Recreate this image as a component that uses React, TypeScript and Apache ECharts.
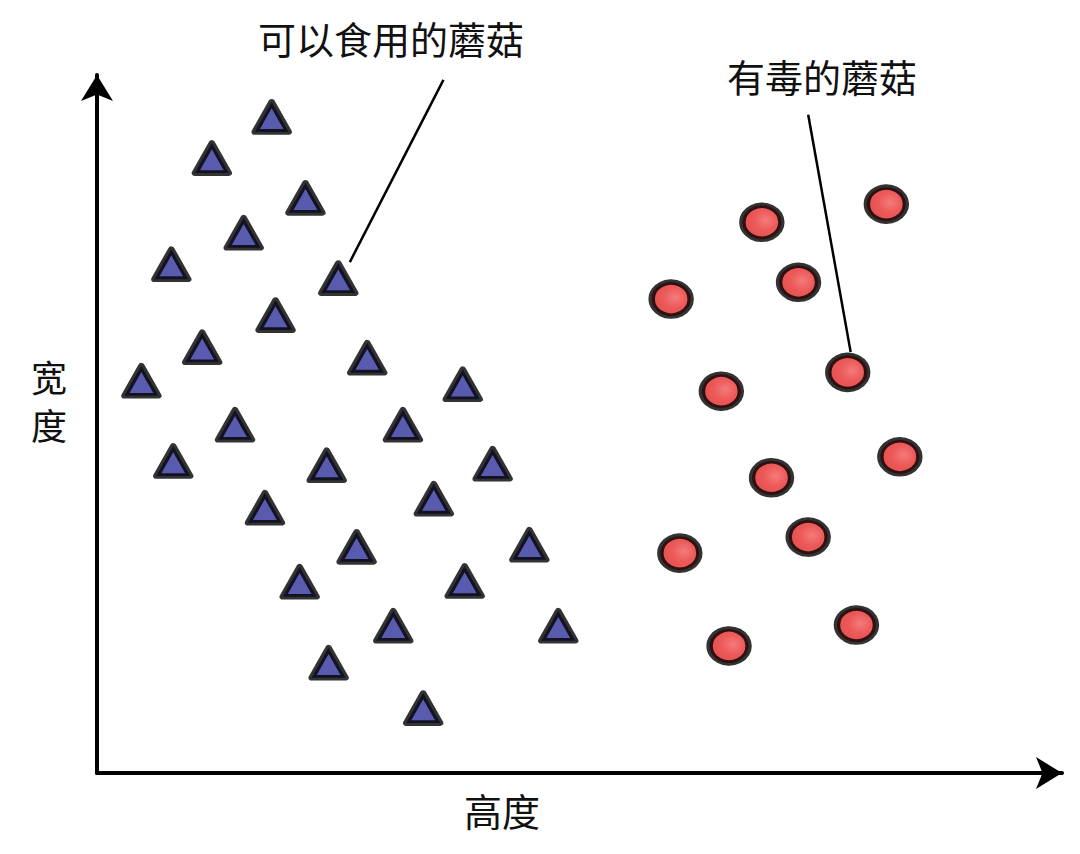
import React, { useEffect, useRef } from "react";
import * as echarts from "echarts";

// Edible mushrooms (triangles): [height, width]
const edibleX = [18.1, 11.9, 21.6, 15.2, 7.7, 25.0, 18.5, 10.9, 28.0, 4.6, 37.9, 14.3, 31.7, 7.9, 23.8, 41.0, 34.9, 17.4, 44.8, 26.9, 21.0, 38.1, 30.7, 47.8, 24.0, 33.8];
const edibleY = [94.0, 88.1, 82.4, 77.4, 72.9, 70.9, 65.6, 61.0, 59.5, 56.2, 55.7, 49.9, 49.9, 44.7, 44.1, 44.3, 39.3, 38.0, 32.7, 32.4, 27.4, 27.5, 21.1, 21.1, 15.8, 9.3];

// Poisonous mushrooms (circles)
const poisonX = [81.8, 68.9, 72.7, 59.5, 77.8, 64.7, 83.2, 69.9, 73.7, 60.4, 78.7, 65.5];
const poisonY = [81.5, 78.9, 70.3, 67.9, 57.4, 54.7, 45.3, 42.3, 33.8, 31.5, 21.2, 18.2];

// Annotation pointer lines (data coordinates)
const edibleLine = [[35.9, 99.3], [26.2, 73.2]];
const poisonLine = [[73.7, 94.3], [78.1, 60.3]];

const xMax = 100;
const yMax = 100;

const labels = {
  edible: "可以食用的蘑菇",
  poison: "有毒的蘑菇",
  xName: "高度",
  yName1: "宽",
  yName2: "度",
};

const FONT = "'Noto Sans CJK SC', 'Noto Sans', sans-serif";

export default function App() {
  const ref = useRef<HTMLDivElement>(null);
  useEffect(() => {
    if (!ref.current) return;
    const chart = echarts.init(ref.current, null, { renderer: "svg" });
    const edible = edibleX.map((x, i) => [x, edibleY[i]]);
    const poison = poisonX.map((x, i) => [x, poisonY[i]]);
    const axisLine = {
      show: true,
      symbol: ["none", "arrow"],
      symbolSize: [24, 26],
      lineStyle: { color: "#000", width: 4 },
    };
    const pointer = (pts: number[][]) => ({
      silent: true,
      symbol: "none",
      label: { show: false },
      lineStyle: { color: "#000", width: 2.5, type: "solid" },
      data: [[{ coord: pts[0] }, { coord: pts[1] }]],
    });
    chart.setOption({
      animation: false,
      backgroundColor: "#ffffff",
      grid: { left: 97, right: 18, top: 75, bottom: 81, containLabel: false },
      xAxis: {
        type: "value",
        min: 0,
        max: xMax,
        axisLine,
        axisTick: { show: false },
        axisLabel: { show: false },
        splitLine: { show: false },
      },
      yAxis: {
        type: "value",
        min: 0,
        max: yMax,
        axisLine,
        axisTick: { show: false },
        axisLabel: { show: false },
        splitLine: { show: false },
      },
      graphic: [
        {
          type: "text",
          left: 258,
          top: 18,
          style: { text: labels.edible, font: `38px ${FONT}`, fill: "#111" },
        },
        {
          type: "text",
          left: 727,
          top: 56,
          style: { text: labels.poison, font: `38px ${FONT}`, fill: "#111" },
        },
        {
          type: "text",
          left: 464,
          top: 790,
          style: { text: labels.xName, font: `38px ${FONT}`, fill: "#111" },
        },
        {
          type: "text",
          left: 31,
          top: 358,
          style: { text: labels.yName1, font: `36px ${FONT}`, fill: "#111" },
        },
        {
          type: "text",
          left: 31,
          top: 406,
          style: { text: labels.yName2, font: `36px ${FONT}`, fill: "#111" },
        },
      ],
      series: [
        {
          type: "scatter",
          name: "edible",
          data: edible,
          symbol: "triangle",
          symbolSize: [34, 30],
          itemStyle: {
            color: "#30339A",
            borderColor: "#000",
            borderWidth: 6,
            borderJoin: "round",
          },
          markLine: pointer(edibleLine),
        },
        {
          type: "scatter",
          name: "poison",
          data: poison,
          symbol: "circle",
          symbolSize: [39, 34],
          itemStyle: {
            color: {
              type: "radial",
              x: 0.6,
              y: 0.45,
              r: 0.6,
              colorStops: [
                { offset: 0, color: "#F25A5A" },
                { offset: 0.5, color: "#E83030" },
                { offset: 1, color: "#DD2424" },
              ],
            },
            borderColor: "#000",
            borderWidth: 6,
          },
          markLine: pointer(poisonLine),
        },
      ],
    });
    return () => chart.dispose();
  }, []);
  return (
    <div
      ref={ref}
      style={{ position: "fixed", left: 0, top: 0, width: 1080, height: 854, background: "#fff" }}
    />
  );
}
